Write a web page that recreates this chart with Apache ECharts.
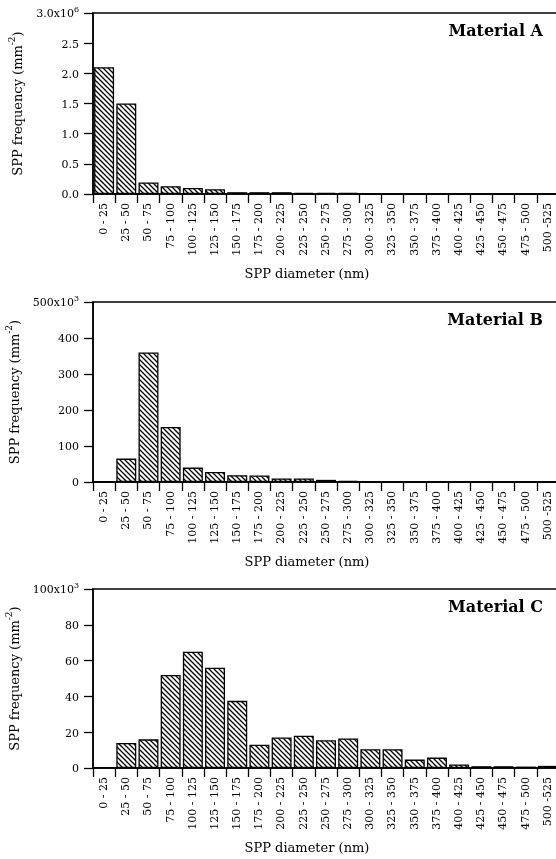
<!DOCTYPE html>
<html><head><meta charset="utf-8">
<script src="https://cdn.jsdelivr.net/npm/echarts@6/dist/echarts.min.js"></script>
<style>html,body{margin:0;padding:0;background:#fff}#c{width:556px;height:859px}</style>
</head><body><div id="c"></div>
<script>
// SPP diameter bins (nm)
const categories = ['0 - 25','25 - 50','50 - 75','75 - 100','100 - 125','125 - 150','150 - 175',
  '175 - 200','200 - 225','225 - 250','250 - 275','275 - 300','300 - 325','325 - 350',
  '350 - 375','375 - 400','400 - 425','425 - 450','450 - 475','475 - 500','500 -525'];
// SPP frequency (mm^-2)
const materialA = [2100000,1500000,190000,130000,100000,80000,30000,30000,30000,20000,20000,20000,0,0,0,0,0,0,0,0,0];
const materialB = [1000,65000,360000,153000,40000,28000,19000,18000,10000,10000,6000,3000,0,0,0,0,0,0,0,0,0];
const materialC = [500,14000,16000,52000,65000,56000,37500,13000,17000,18000,15500,16500,10500,10500,4700,5800,2000,1000,1000,800,1200];
// y axis scales
const yMax = [3000000, 500000, 100000];
const yStep = [500000, 100000, 20000];
const yDiv = [1e6, 1e3, 1e3];
const yTopMantissa = ['3.0', '500', '100'];
const yTopExp = ['6', '3', '3'];
const yDecimals = [1, 0, 0];
const panelTitles = ['Material A', 'Material B', 'Material C'];
const xName = 'SPP diameter (nm)';

const FONT = '"DejaVu Serif", "Liberation Serif", serif';
const grids = [
  {left: 93, top: 13, width: 466, height: 181},
  {left: 93, top: 302, width: 466, height: 180},
  {left: 93, top: 589, width: 466, height: 179}
];

function hatch() {
  const s = 5;
  const c = document.createElement('canvas');
  c.width = s; c.height = s;
  const g = c.getContext('2d');
  g.fillStyle = '#fff'; g.fillRect(0, 0, s, s);
  g.strokeStyle = '#000'; g.lineWidth = 1.3;
  g.beginPath();
  g.moveTo(-1, -1); g.lineTo(s + 1, s + 1);
  g.moveTo(-1, s - 1); g.lineTo(1, s + 1);
  g.moveTo(s - 1, -1); g.lineTo(s + 1, 1);
  g.stroke();
  return c;
}
const pattern = {image: hatch(), repeat: 'repeat'};
const seriesData = [materialA, materialB, materialC];

const option = {
  animation: false,
  backgroundColor: '#fff',
  grid: grids.map(g => Object.assign({show: true, borderColor: '#000', borderWidth: 1.5, backgroundColor: 'transparent', containLabel: false, outerBoundsMode: 'none'}, g)),
  xAxis: grids.map((g, i) => ({
    type: 'category', gridIndex: i, data: categories,
    axisLine: {lineStyle: {color: '#000', width: 1.5}},
    axisTick: {show: true, interval: 0, length: 9, lineStyle: {color: '#000', width: 1.3}},
    axisLabel: {interval: 0, rotate: 90, margin: 9, color: '#000', fontFamily: FONT, fontSize: 11}
  })),
  yAxis: grids.map((g, i) => ({
    type: 'value', gridIndex: i, min: 0, max: yMax[i], interval: yStep[i],
    splitLine: {show: false},
    axisLine: {show: true, lineStyle: {color: '#000', width: 1.5}},
    axisTick: {show: true, length: 9, lineStyle: {color: '#000', width: 1.3}},
    axisLabel: {
      margin: 14, color: '#000', fontFamily: FONT, fontSize: 11,
      formatter: v => v >= yMax[i] ? '{a|' + yTopMantissa[i] + 'x10}{s|' + yTopExp[i] + '}' : '{a|' + (v / yDiv[i]).toFixed(yDecimals[i]) + '}',
      rich: {
        a: {fontFamily: FONT, fontSize: 11, color: '#000', verticalAlign: 'bottom', lineHeight: 14},
        s: {fontFamily: FONT, fontSize: 8, color: '#000', verticalAlign: 'top', lineHeight: 14}
      }
    },
    name: '{a|SPP frequency (mm}{s|-2}{a|)}',
    nameLocation: 'middle', nameGap: 64,
    nameTextStyle: {
      rich: {
        a: {fontFamily: FONT, fontSize: 13, color: '#000', verticalAlign: 'bottom', lineHeight: 17},
        s: {fontFamily: FONT, fontSize: 9, color: '#000', verticalAlign: 'top', lineHeight: 17}
      }
    }
  })),
  series: seriesData.map((d, i) => ({
    type: 'bar', xAxisIndex: i, yAxisIndex: i, data: d,
    barCategoryGap: '10%',
    itemStyle: {color: pattern, borderColor: '#000', borderWidth: 1.3}
  })),
  graphic: grids.map((g, i) => ({
    type: 'text', x: 543, y: g.top + 19,
    style: {text: panelTitles[i], fill: '#000', font: 'bold 16px ' + FONT, align: 'right', verticalAlign: 'middle', textAlign: 'right', textVerticalAlign: 'middle'}
  })).concat(grids.map((g, i) => ({
    type: 'text', x: 307, y: g.top + g.height + 81,
    style: {text: xName, fill: '#000', font: '13px ' + FONT, align: 'center', verticalAlign: 'middle', textAlign: 'center', textVerticalAlign: 'middle'}
  })))
};
const chart = echarts.init(document.getElementById('c'), null, {renderer: 'canvas'});
chart.setOption(option);
</script></body></html>
